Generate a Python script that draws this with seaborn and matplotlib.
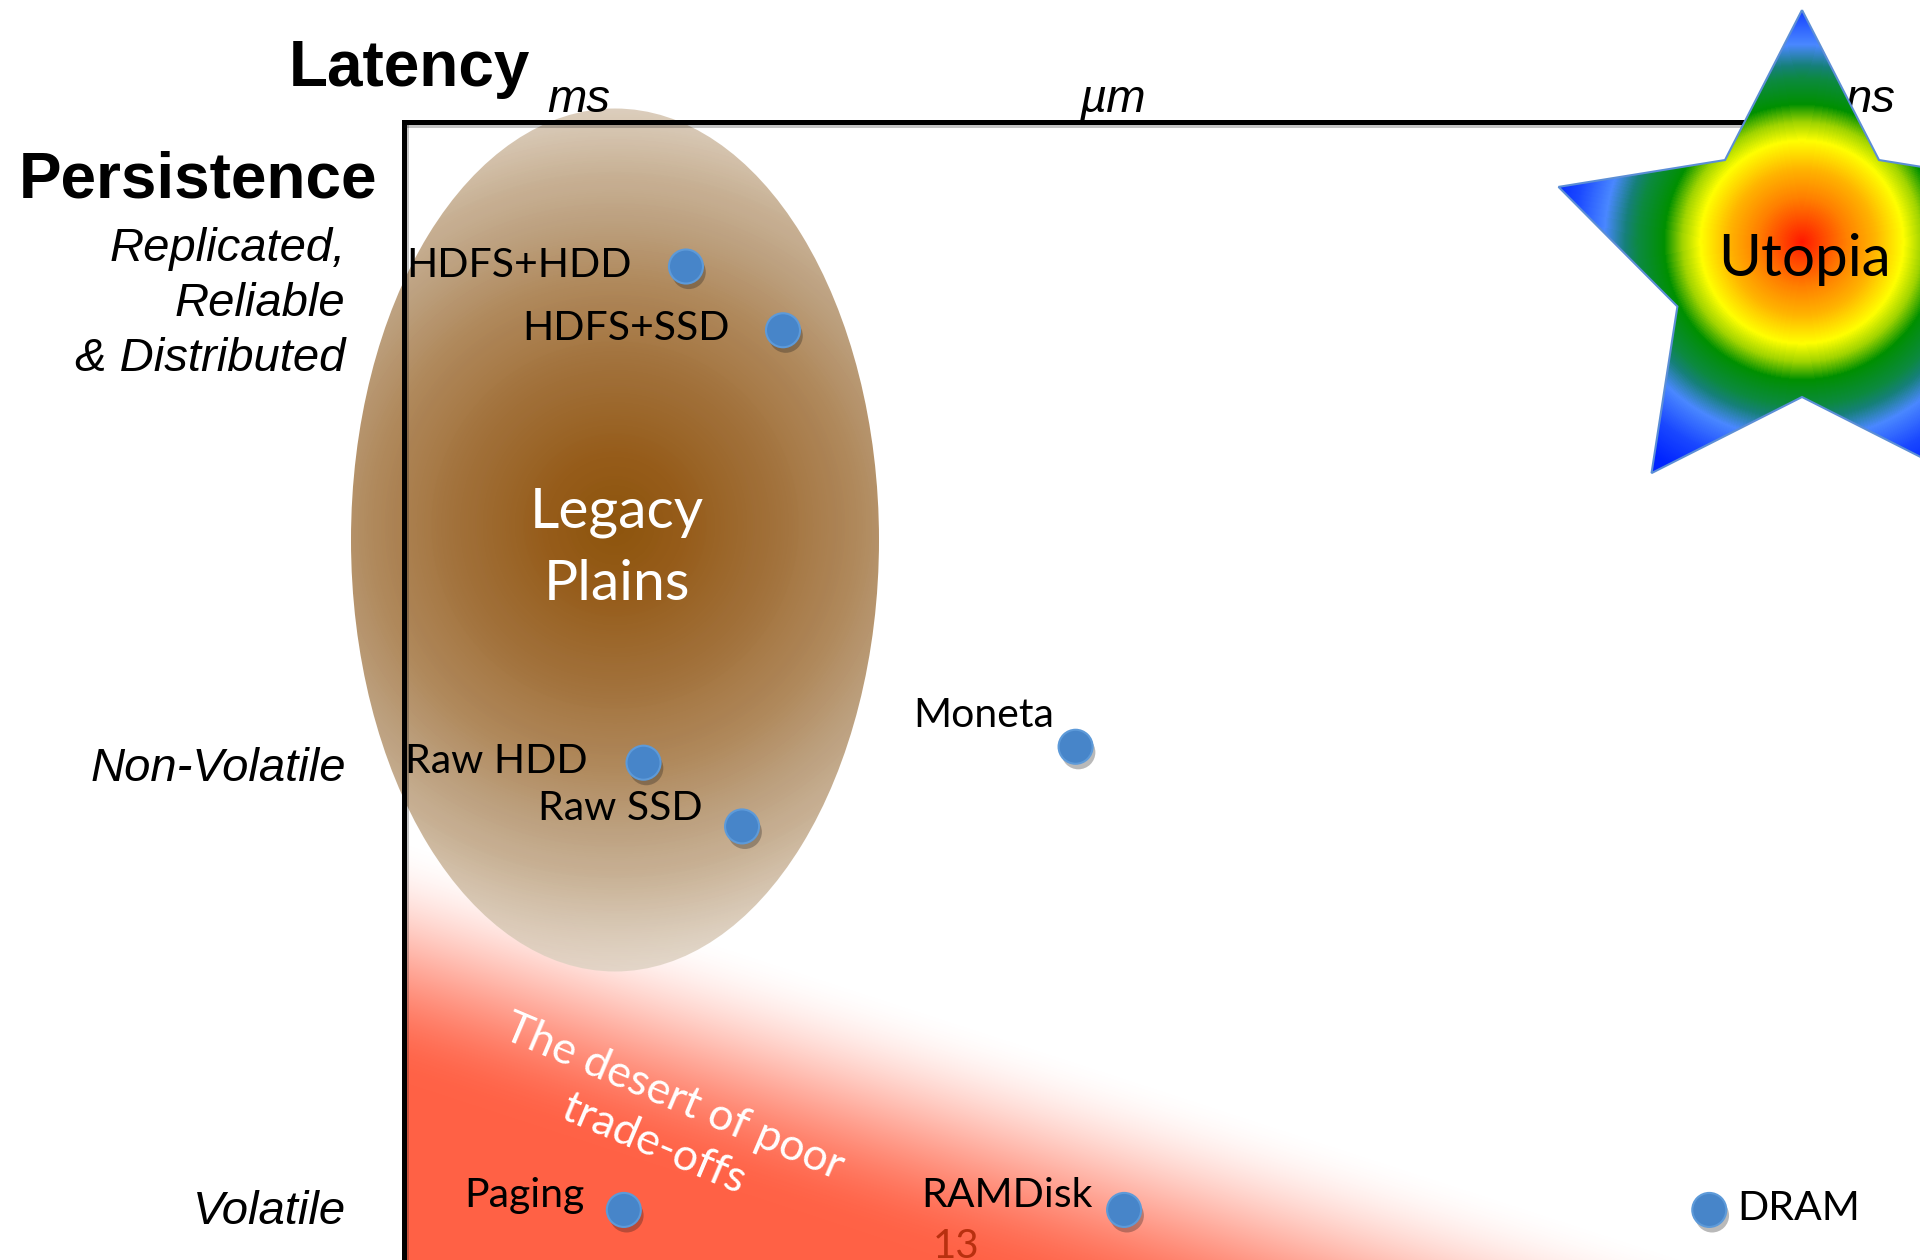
import numpy as np
import pandas as pd
import seaborn as sns
import matplotlib.pyplot as plt
import matplotlib.patheffects as pe
from matplotlib.colors import LinearSegmentedColormap, to_rgb
from matplotlib.patches import Ellipse, Polygon

# --- storage systems: latency score (left = slow, right = fast) and persistence score
systems = ["HDFS+HDD", "HDFS+SSD", "Raw HDD", "Raw SSD", "Moneta", "Paging", "RAMDisk", "DRAM"]
latency = [18.6, 25.0, 15.8, 22.3, 44.3, 14.5, 47.5, 86.1]
persistence = [87.3, 81.7, 43.7, 38.1, 45.1, 4.4, 4.4, 4.4]

latency_ticks = [11.5, 46.7, 96.7]
latency_labels = ["ms", "µm", "ns"]
persistence_ticks = [84.9, 43.6, 4.7]
persistence_labels = ["Replicated,\nReliable\n& Distributed", "Non-Volatile", "Volatile"]

# label placement next to each dot: (dx px, dy px, horizontal alignment)
label_layout = {
    "HDFS+HDD": (-54, -10, "right"),
    "HDFS+SSD": (-53, -10, "right"),
    "Raw HDD": (-56, -10, "right"),
    "Raw SSD": (-39, 6, "right"),
    "Moneta": (-21, 20, "right"),
    "Paging": (-39, 3, "right"),
    "RAMDisk": (-31, 3, "right"),
    "DRAM": (28, -10, "left"),
}

W, H, DPI = 1920, 1260, 100
AX_LEFT, AX_TOP = 404, 122

sns.set_theme(style="white")
plt.rcParams["font.family"] = ["Lato", "DejaVu Sans"]
plt.rcParams["text.color"] = "black"

fig = plt.figure(figsize=(W / DPI, H / DPI), dpi=DPI)
fig.patch.set_facecolor("white")


def canvas_axes(z):
    a = fig.add_axes([0, 0, 1, 1], zorder=z)
    a.patch.set_alpha(0)
    a.set_xlim(0, W)
    a.set_ylim(H, 0)
    a.axis("off")
    return a


def grid(x0, x1, y0, y1):
    return np.meshgrid(np.arange(x0, x1) + 0.5, np.arange(y0, y1) + 0.5)


# ---------------- background layer: desert + legacy plains ----------------
bg = canvas_axes(0)

# red "desert" fading diagonally towards the upper right
dx0, dx1, dy0, dy1 = AX_LEFT + 2, W, 760, H
X, Y = grid(dx0, dx1, dy0, dy1)
ux, uy = 1196.0, 390.0
d = ((X - AX_LEFT) * (-uy) + (Y - 835) * ux) / np.hypot(ux, uy)
a = np.clip(d / 235.0, 0, 1)
a = a * a * (3 - 2 * a)
desert = np.zeros(X.shape + (4,))
desert[..., :3] = to_rgb("#ff6145")
desert[..., 3] = a
bg.imshow(desert, extent=(dx0, dx1, dy1, dy0), interpolation="bilinear",
          aspect="auto", zorder=1)

# legacy plains: brown radial gradient inside an ellipse
ex0, ex1, ey0, ey1 = 340, 890, 100, 985
X, Y = grid(ex0, ex1, ey0, ey1)
r = np.hypot(X - 615, Y - 525) / 440.0
legacy_cmap = LinearSegmentedColormap.from_list("legacy", [
    (0.00, "#8e540c"), (0.14, "#955b18"), (0.32, "#a06e36"), (0.50, "#ae8658"),
    (0.64, "#bca07e"), (0.78, "#cdb89e"), (0.91, "#ddd0c0"), (1.00, "#e6ddd2")])
rgba = legacy_cmap(np.clip(r / 1.1, 0, 1))
rgba[..., 3] = np.interp(r, [0, 0.8, 1.05], [1.0, 0.97, 0.8])
im = bg.imshow(rgba, extent=(ex0, ex1, ey1, ey0), interpolation="bilinear",
               aspect="auto", zorder=2)
ell = Ellipse((615, 540), 528, 863, facecolor="none", edgecolor="none",
              transform=bg.transData)
bg.add_patch(ell)
im.set_clip_path(ell)
bg.set_xlim(0, W)
bg.set_ylim(H, 0)

bg.text(617, 527, "Legacy", ha="center", va="baseline", fontsize=41, color="white", zorder=3)
bg.text(617, 600, "Plains", ha="center", va="baseline", fontsize=41, color="white", zorder=3)
bg.text(664, 1121, "The desert of poor\ntrade-offs", ha="center", va="center",
        multialignment="center", rotation=-23, rotation_mode="anchor",
        fontsize=32, color="white", linespacing=1.3, zorder=3)

# ---------------- main axes: the scatter of systems ----------------
ax = fig.add_axes([AX_LEFT / W, 0, (W - AX_LEFT) / W, (H - AX_TOP) / H], zorder=2)
ax.patch.set_alpha(0)

df = pd.DataFrame({"system": systems, "latency": latency, "persistence": persistence})
sns.scatterplot(data=df, x="latency", y="persistence", ax=ax, s=600,
                color="#4785c9", edgecolor="#5d9ad9", linewidth=1.5,
                legend=False, zorder=5, clip_on=False)
ax.collections[-1].set_path_effects([
    pe.SimplePatchShadow(offset=(2, -4), shadow_rgbFace="k", alpha=0.3), pe.Normal()])

for name, x, y in zip(systems, latency, persistence):
    ox, oy, ha = label_layout[name]
    ax.annotate(name, (x, y), xytext=(ox, oy), textcoords="offset pixels",
                ha=ha, va="baseline", fontsize=29.5, color="black", zorder=6)

ax.set_xlim(0, 100)
ax.set_ylim(0, 100)
ax.set_xlabel("")
ax.set_ylabel("")

for side in ("right", "bottom"):
    ax.spines[side].set_visible(False)
for side in ("left", "top"):
    sp = ax.spines[side]
    sp.set_visible(True)
    sp.set_color("black")
    sp.set_linewidth(3.6)
    sp.set_path_effects([pe.SimpleLineShadow(offset=(1.5, -2.5), shadow_color="k", alpha=0.25),
                         pe.Normal()])
ax.spines["top"].set_bounds(0, 92)

ax.xaxis.tick_top()
ax.set_xticks(latency_ticks, latency_labels, fontsize=34, fontstyle="italic",
              fontfamily="Liberation Sans", color="black")
ax.set_yticks(persistence_ticks, persistence_labels, fontsize=34, fontstyle="italic",
              fontfamily="Liberation Sans", linespacing=1.32, color="black")
ax.tick_params(axis="x", length=0, pad=0, colors="black")
ax.tick_params(axis="y", length=0, pad=42, colors="black")
ax.grid(False)

fig.text(530 / W, 1 - 86 / H, "Latency", ha="right", va="baseline", fontsize=46,
         fontweight="bold", fontfamily="Liberation Sans", color="black")
fig.text(377 / W, 1 - 198 / H, "Persistence", ha="right", va="baseline", fontsize=46,
         fontweight="bold", fontfamily="Liberation Sans", color="black")
fig.text(933 / W, 1 - 1258 / H, "13", ha="left", va="baseline", fontsize=29,
         color="#b8300f")

# ---------------- top layer: the Utopia star ----------------
top = canvas_axes(4)
cx, cy, R, r_in = 1802, 266, 256, 131
ang = np.deg2rad(90 + 36 * np.arange(10))
rad = np.array([R, r_in] * 5)
star_xy = np.column_stack([cx + rad * np.cos(ang), cy - rad * np.sin(ang)])

sx0, sx1, sy0, sy1 = 1530, W, 0, 500
X, Y = grid(sx0, sx1, sy0, sy1)
rs = np.hypot(X - 1802, Y - 242) / 260.0
star_cmap = LinearSegmentedColormap.from_list("utopia", [
    (0.00, "#ff1a00"), (0.17, "#ff8000"), (0.28, "#ffb400"), (0.39, "#ffff00"),
    (0.46, "#a0d400"), (0.53, "#009000"), (0.63, "#0c8a40"), (0.68, "#16807a"),
    (0.76, "#4a88ff"), (0.88, "#1a48ff"), (1.00, "#0024ff")])
sim = top.imshow(star_cmap(np.clip(rs, 0, 1)), extent=(sx0, sx1, sy1, sy0),
                 interpolation="bilinear", aspect="auto", zorder=1)
star = Polygon(star_xy, closed=True, facecolor="none", edgecolor="#5b8ed6",
               linewidth=1.5, zorder=2, transform=top.transData)
top.add_patch(star)
sim.set_clip_path(star)
top.set_xlim(0, W)
top.set_ylim(H, 0)
top.text(1804, 276, "Utopia", ha="center", va="baseline", fontsize=42, color="black", zorder=3)

fig.savefig("out.png", dpi=DPI, facecolor="white")
